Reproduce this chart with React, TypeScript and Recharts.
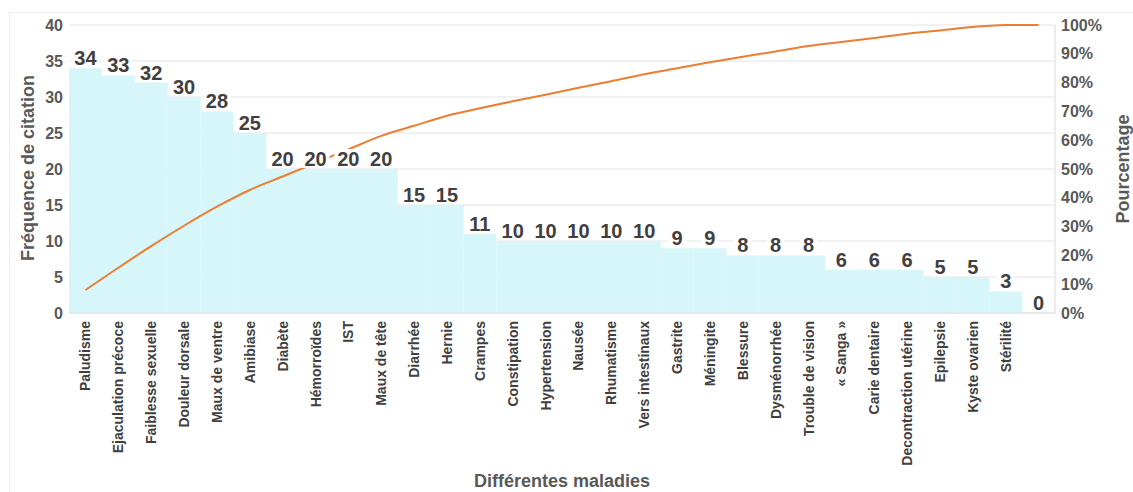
import React from 'react';
import { ComposedChart, Bar, Line, XAxis, YAxis, CartesianGrid, LabelList } from 'recharts';

const maladies = [
  'Paludisme', 'Ejaculation précoce', 'Faiblesse sexuelle', 'Douleur dorsale', 'Maux de ventre',
  'Amibiase', 'Diabète', 'Hémorroïdes', 'IST', 'Maux de tête', 'Diarrhée', 'Hernie', 'Crampes',
  'Constipation', 'Hypertension', 'Nausée', 'Rhumatisme', 'Vers intestinaux', 'Gastrite',
  'Méningite', 'Blessure', 'Dysménorrhée', 'Trouble de vision', '« Sanga »', 'Carie dentaire',
  'Decontraction utérine', 'Epilepsie', 'Kyste ovarien', 'Stérilité', '',
];
const frequences = [34, 33, 32, 30, 28, 25, 20, 20, 20, 20, 15, 15, 11, 10, 10, 10, 10, 10, 9, 9, 8, 8, 8, 6, 6, 6, 5, 5, 3, 0];
// cumulative share, in percent
const cumul = [8.0, 15.7, 23.2, 30.3, 36.9, 42.7, 47.4, 52.1, 56.8, 61.5, 65.0, 68.5, 71.1, 73.5, 75.8, 78.2, 80.5, 82.9, 85.0, 87.1, 89.0, 90.8, 92.7, 94.1, 95.5, 97.0, 98.1, 99.3, 100, 100];
const leftTicks = [0, 5, 10, 15, 20, 25, 30, 35, 40];
const rightTicks = [0, 10, 20, 30, 40, 50, 60, 70, 80, 90, 100];

const data = maladies.map((m, i) => ({ name: m, freq: frequences[i], pct: cumul[i] }));

const FONT = '"Liberation Sans", Arial, sans-serif';

const CatTick = (props: any) => {
  const { x, y, payload } = props;
  return (
    <g transform={`translate(${x},${y})`}>
      <text transform="rotate(-90)" textAnchor="end" dy="0.36em" fontSize={14} fontWeight="bold" fill="#404040" fontFamily={FONT}>
        {payload.value}
      </text>
    </g>
  );
};

// x, y here are the top-centre of each bar (labels ride on a hidden line so the 0 bar gets one too)
const ValueLabel = (props: any) => {
  const { x, y, value } = props;
  const w = String(value).length * 11 + 6;
  return (
    <g>
      <rect x={x - w / 2} y={y - 20} width={w} height={19} fill="#ffffff" />
      <text x={x} y={y - 3} textAnchor="middle" fontSize={20} fontWeight="bold" fill="#404040" fontFamily={FONT}>
        {value}
      </text>
    </g>
  );
};

const titleStyle: React.CSSProperties = {
  position: 'absolute',
  fontFamily: FONT,
  fontWeight: 'bold',
  fontSize: 18,
  color: '#595959',
  whiteSpace: 'nowrap',
};

export default function App() {
  return (
    <div style={{ position: 'absolute', left: 0, top: 0, width: 1133, height: 492, background: '#fff', overflow: 'hidden' }}>
      <div style={{ position: 'absolute', left: 9, top: 12, width: 1124, height: 480, borderTop: '1px solid #efefef', borderLeft: '1px solid #efefef' }} />
      <ComposedChart
        width={1133}
        height={492}
        data={data}
        margin={{ top: 25, right: 28, bottom: 19, left: 0 }}
        barCategoryGap={0}
        barGap={0}
        style={{ position: 'absolute', left: 0, top: 0 }}
      >
        <CartesianGrid vertical={false} stroke="#e4e4e4" yAxisId="left" />
        <XAxis
          dataKey="name"
          interval={0}
          height={160}
          tickLine={false}
          axisLine={{ stroke: '#d9e2e4' }}
          tick={<CatTick />}
        />
        <YAxis
          yAxisId="left"
          width={69}
          domain={[0, 40]}
          ticks={leftTicks}
          tickLine={false}
          axisLine={false}
          tickMargin={0}
          tick={{ fontSize: 16, fontWeight: 'bold', fill: '#595959', fontFamily: FONT }}
        />
        <YAxis
          yAxisId="right"
          orientation="right"
          width={50}
          domain={[0, 100]}
          ticks={rightTicks}
          tickLine={false}
          axisLine={{ stroke: '#d9d9d9' }}
          tickMargin={0}
          tickFormatter={(v: number) => `${v}%`}
          tick={{ fontSize: 16, fontWeight: 'bold', fill: '#595959', fontFamily: FONT, textAnchor: 'start' }}
        />
        <Bar yAxisId="left" dataKey="freq" fill="#d6f6fa" isAnimationActive={false} />
        <Line
          yAxisId="left"
          dataKey="freq"
          stroke="none"
          dot={false}
          activeDot={false}
          isAnimationActive={false}
        >
          <LabelList dataKey="freq" content={<ValueLabel />} />
        </Line>
        <Line
          yAxisId="right"
          dataKey="pct"
          type="monotone"
          stroke="#ed7d31"
          strokeWidth={2}
          dot={false}
          isAnimationActive={false}
        />
      </ComposedChart>
      <div style={{ ...titleStyle, left: 28, top: 168, transform: 'translate(-50%, -50%) rotate(-90deg)' }}>
        Fréquence de citation
      </div>
      <div style={{ ...titleStyle, left: 1123, top: 169, transform: 'translate(-50%, -50%) rotate(-90deg)' }}>
        Pourcentage
      </div>
      <div style={{ ...titleStyle, left: 562, top: 481, transform: 'translate(-50%, -50%)' }}>
        Différentes maladies
      </div>
    </div>
  );
}
